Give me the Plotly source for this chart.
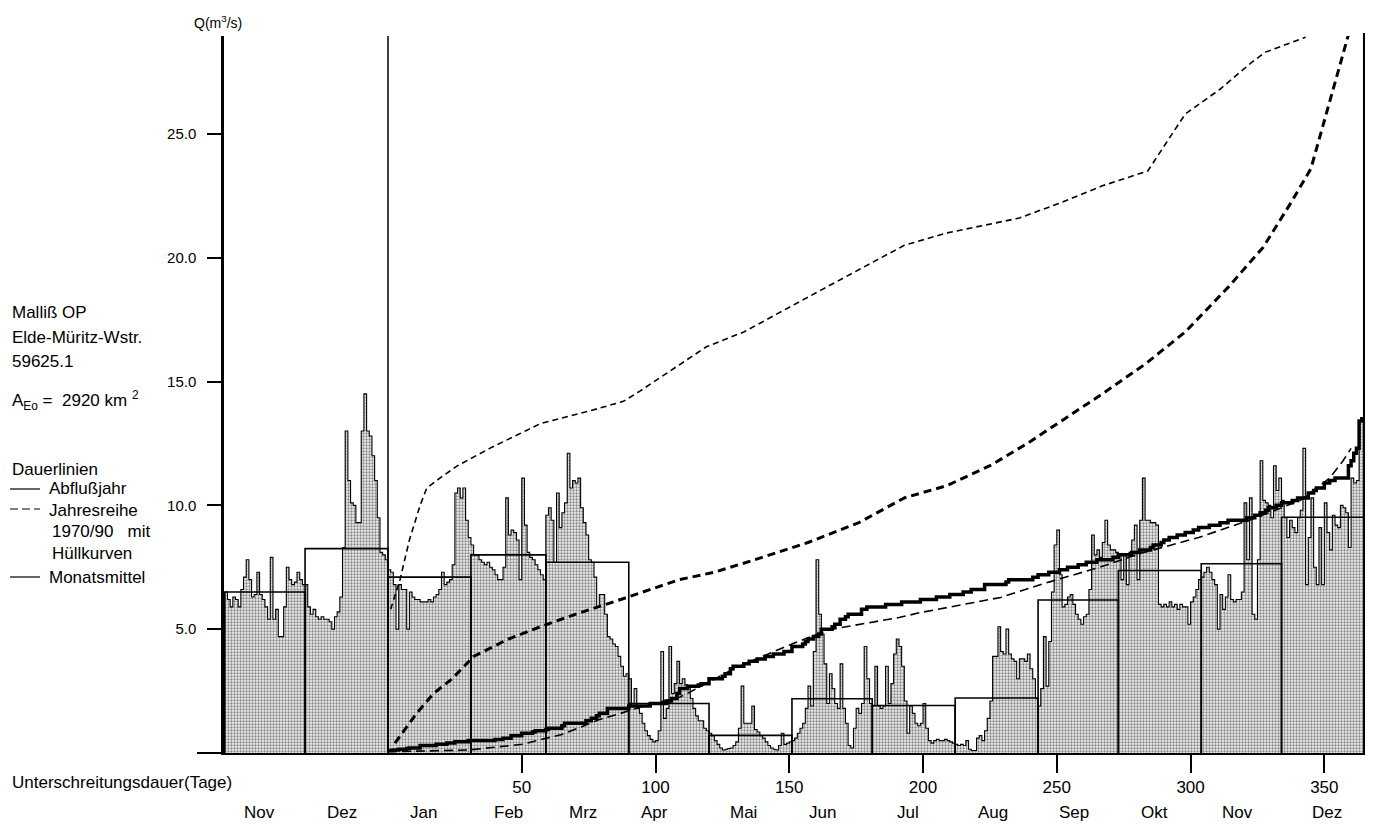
import plotly.graph_objects as go

# ---------------------------------------------------------------------------
# Daily discharge Q (m³/s), Malliß OP / Elde-Müritz-Wasserstraße
# previous-year Nov/Dez followed by the water year Jan..Dez
# ---------------------------------------------------------------------------
q_nov_prev = [6.5, 6.2, 5.9, 6.3, 6.2, 5.9, 6.6, 7.1, 7.8, 7.0, 6.3, 6.4, 7.3, 6.4, 6.2,
              5.9, 5.4, 7.9, 5.4, 5.8, 4.7, 4.7, 5.9, 7.5, 7.0, 6.8, 6.9, 7.3, 7.0, 6.8]
q_dez_prev = [6.8, 5.9, 5.6, 5.8, 5.5, 5.4, 5.5, 5.4, 5.4, 5.3, 5.0, 5.5, 5.7, 6.3, 8.3, 13.0,
              11.0, 10.1, 10.0, 9.3, 9.3, 13.0, 14.5, 13.0, 12.8, 12.0, 11.0, 9.5, 8.1, 8.0, 7.8]
q_jan = [7.4, 7.3, 6.8, 5.0, 6.8, 6.6, 6.6, 5.0, 6.5, 6.3, 6.2, 6.2, 6.1, 6.1, 6.1, 6.2,
         6.1, 6.3, 6.4, 6.6, 7.3, 6.8, 6.9, 7.0, 7.6, 10.5, 10.7, 10.3, 10.7, 9.4, 8.7]
q_feb = [8.4, 8.0, 8.0, 7.8, 7.7, 7.6, 7.7, 7.5, 7.4, 7.2, 7.0, 7.0, 7.5, 10.3, 8.8, 9.0,
         8.9, 8.6, 7.0, 11.1, 9.2, 8.1, 7.9, 7.8, 7.6, 7.4, 7.2, 7.0]
q_mrz = [9.6, 9.9, 9.4, 7.7, 10.5, 9.1, 9.7, 10.1, 12.1, 10.7, 11.0, 10.9, 11.1, 9.9, 9.3, 8.8,
         7.8, 7.7, 7.1, 5.9, 6.4, 6.4, 5.6, 4.7, 4.6, 4.4, 4.3, 3.9, 3.5, 3.1, 3.2]
q_apr = [3.0, 1.9, 2.6, 1.8, 1.6, 1.2, 0.9, 0.7, 0.55, 0.45, 0.5, 0.9, 4.1, 1.4, 1.8, 4.3,
         2.4, 2.8, 3.7, 2.8, 3.0, 2.75, 2.7, 2.2, 1.8, 1.5, 1.3, 1.3, 1.0, 0.9]
q_mai = [0.8, 0.7, 0.5, 0.35, 0.2, 0.12, 0.15, 0.18, 0.2, 0.3, 0.45, 1.0, 2.7, 1.2, 1.2, 1.2,
         1.9, 0.95, 0.85, 0.7, 0.6, 0.45, 0.3, 0.2, 0.15, 0.12, 0.3, 0.8, 0.35, 0.4, 0.45]
q_jun = [0.5, 0.6, 0.8, 1.0, 1.2, 1.8, 2.7, 1.9, 4.1, 7.8, 5.6, 4.8, 3.6, 2.0, 3.2, 2.6,
         2.0, 1.8, 3.6, 1.8, 1.2, 0.3, 0.2, 1.0, 1.8, 1.6, 2.0, 4.3, 3.0, 2.0]
q_jul = [1.9, 3.5, 1.9, 1.8, 1.9, 3.5, 2.0, 2.8, 4.0, 4.6, 4.3, 3.5, 2.1, 0.8, 1.9, 1.6,
         1.2, 1.1, 1.2, 2.0, 1.0, 0.5, 0.4, 0.5, 0.55, 0.5, 0.5, 0.55, 0.5, 0.45, 0.4]
q_aug = [0.35, 0.3, 0.35, 0.3, 0.5, 0.15, 0.1, 0.1, 0.6, 0.7, 0.5, 0.9, 1.4, 2.1, 3.9, 3.9,
         5.1, 4.1, 4.0, 5.0, 4.0, 3.8, 3.7, 3.0, 3.8, 3.8, 3.7, 4.0, 3.4, 3.0, 2.2]
q_sep = [1.9, 2.6, 4.7, 2.7, 4.5, 6.5, 8.4, 9.0, 7.2, 5.9, 6.0, 6.3, 6.4, 6.0, 5.6, 5.4,
         5.2, 5.5, 5.6, 6.6, 8.8, 8.0, 8.2, 7.9, 8.5, 9.4, 8.4, 8.2, 8.2, 8.1]
q_okt = [8.0, 7.0, 8.0, 6.8, 8.1, 8.6, 9.2, 7.0, 9.4, 11.1, 9.4, 9.4, 9.3, 9.3, 9.2, 6.0,
         5.9, 6.0, 5.9, 6.1, 5.9, 6.0, 5.8, 6.0, 5.9, 5.9, 5.2, 6.1, 6.3, 6.6, 7.0]
q_nov = [7.1, 7.3, 7.5, 7.3, 7.0, 6.8, 5.0, 6.4, 5.8, 6.3, 7.2, 6.2, 6.1, 6.2, 6.2, 6.5,
         10.1, 7.8, 10.3, 5.6, 5.4, 7.8, 11.8, 10.2, 10.1, 10.0, 9.5, 11.6, 10.6, 11.1]
q_dez = [10.2, 9.5, 8.7, 9.4, 9.1, 8.9, 9.5, 9.8, 12.3, 6.8, 8.7, 10.3, 7.5, 6.8, 9.1, 6.8,
         10.1, 8.9, 8.2, 9.6, 9.2, 9.1, 10.0, 9.9, 9.7, 8.3, 11.1, 10.9, 11.0, 13.4, 13.5]

# Monthly means (Monatsmittel) and month layout
month_names = ["Nov", "Dez", "Jan", "Feb", "Mrz", "Apr", "Mai", "Jun",
               "Jul", "Aug", "Sep", "Okt", "Nov", "Dez"]
month_start_day = [-61, -31, 0, 31, 59, 90, 120, 151, 181, 212, 243, 273, 304, 334]
month_mean = [6.5, 8.25, 7.1, 8.0, 7.7, 2.0, 0.71, 2.19, 1.92, 2.22, 6.18, 7.37, 7.64, 9.52]
month_label_day = [-47.9, -17.2, 13.1, 45.2, 73.0, 99.8, 132.7, 162.6,
                   194.4, 226.2, 256.4, 286.4, 317.4, 351.0]
year_end_day = 365

# Duration curves of the series 1970/90 (mean and envelopes)
upper_day = [1, 4.5, 8, 12, 14.5, 19.4, 26, 38, 57, 75, 88, 94, 119, 133, 162, 193,
             209, 236, 251, 267, 284, 298, 311, 323, 328, 343]
upper_q = [5.8, 7.0, 8.6, 10.0, 10.7, 11.1, 11.6, 12.3, 13.3, 13.8, 14.2, 14.6, 16.4, 17.0,
           18.7, 20.5, 21.0, 21.6, 22.2, 22.9, 23.5, 25.8, 26.8, 27.9, 28.3, 28.9]
mean_day = [2.6, 10.7, 17, 24, 32, 45, 57, 70, 87, 109, 122, 137, 157, 176, 193, 209,
            225, 239, 253, 267, 283, 298, 314, 327, 338, 345, 352, 359]
mean_q = [0.4, 1.6, 2.4, 3.0, 3.9, 4.6, 5.1, 5.6, 6.2, 7.0, 7.3, 7.8, 8.5, 9.3, 10.3, 10.8,
          11.6, 12.5, 13.5, 14.5, 15.7, 17.0, 18.8, 20.4, 22.3, 23.6, 26.3, 29.0]
lower_day = [0, 30, 50, 65, 72, 79, 87, 94, 109, 119, 128, 139, 151, 159, 166, 181, 191,
             199, 229, 247, 266, 281, 303, 322, 341, 352, 357, 360]
lower_q = [0.05, 0.12, 0.35, 0.75, 1.04, 1.35, 1.6, 1.85, 2.25, 2.8, 3.33, 3.86, 4.4, 4.74,
           5.0, 5.27, 5.47, 5.67, 6.28, 6.9, 7.5, 8.05, 8.7, 9.4, 10.2, 11.1, 11.8, 12.3]

x_tick_vals = [50, 100, 150, 200, 250, 300, 350]
y_tick_vals = [5, 10, 15, 20, 25]
y_tick_text = ["5.0", "10.0", "15.0", "20.0", "25.0"]

# ---------------------------------------------------------------------------
FONT = "Liberation Sans, Arial, sans-serif"
W, H = 1374, 825
ML, MR, MT, MB = 224, 9, 36, 72
PW, PH = W - ML - MR, H - MT - MB


def fx(px):
    return (px - ML) / PW


def fy(py):
    return (H - MB - py) / PH


# daily hydrograph
daily = (q_nov_prev + q_dez_prev + q_jan + q_feb + q_mrz + q_apr + q_mai + q_jun
         + q_jul + q_aug + q_sep + q_okt + q_nov + q_dez)
first_day = month_start_day[0]
hx = [first_day + i for i in range(len(daily))] + [first_day + len(daily)]
hy = daily + [daily[-1]]

# flow-duration curve of the water year (sorted daily values Jan..Dez)
year_vals = sorted(daily[-first_day:])
fdc_x = list(range(len(year_vals))) + [len(year_vals)]
fdc_y = year_vals + [year_vals[-1]]

# monthly mean boxes
ends = month_start_day[1:] + [year_end_day]
mx, my = [], []
for s, e, m in zip(month_start_day, ends, month_mean):
    mx += [s, s, e, e, None]
    my += [0, m, m, 0, None]

fig = go.Figure()
fig.add_trace(go.Scatter(
    x=hx, y=hy, mode="lines", line=dict(color="black", width=1.1, shape="hv"),
    fill="tozeroy", fillcolor="rgba(0,0,0,0)",
    fillpattern=dict(shape=".", fgcolor="#1a1a1a", bgcolor="#f0f0f0", size=3, solidity=0.45),
    hoverinfo="skip", showlegend=False))
fig.add_trace(go.Scatter(x=mx, y=my, mode="lines", line=dict(color="black", width=1.6),
                         hoverinfo="skip", showlegend=False))
fig.add_trace(go.Scatter(x=upper_day, y=upper_q, mode="lines",
                         line=dict(color="black", width=1.6, dash="6px,4px"),
                         hoverinfo="skip", showlegend=False))
fig.add_trace(go.Scatter(x=lower_day, y=lower_q, mode="lines",
                         line=dict(color="black", width=1.6, dash="9px,5px"),
                         hoverinfo="skip", showlegend=False))
fig.add_trace(go.Scatter(x=mean_day, y=mean_q, mode="lines",
                         line=dict(color="black", width=3, dash="8px,5px"),
                         hoverinfo="skip", showlegend=False))
fig.add_trace(go.Scatter(x=fdc_x, y=fdc_y, mode="lines",
                         line=dict(color="black", width=3.5, shape="hv"),
                         hoverinfo="skip", showlegend=False))

shapes = [
    # year boundary lines
    dict(type="line", xref="x", yref="paper", x0=0, x1=0, y0=0, y1=1,
         line=dict(color="black", width=1.5)),
    dict(type="line", xref="x", yref="paper", x0=year_end_day, x1=year_end_day, y0=0, y1=fy(33),
         line=dict(color="black", width=3)),
    # baseline extension left of the Q axis
    dict(type="line", xref="paper", yref="paper", x0=fx(197), x1=0, y0=0, y1=0,
         line=dict(color="black", width=2)),
    # key lines of the left-hand legend
    dict(type="line", xref="paper", yref="paper", x0=fx(10), x1=fx(40), y0=fy(489), y1=fy(489),
         line=dict(color="black", width=1.2)),
    dict(type="line", xref="paper", yref="paper", x0=fx(10), x1=fx(40), y0=fy(509), y1=fy(509),
         line=dict(color="black", width=1.2, dash="8px,4px")),
    dict(type="line", xref="paper", yref="paper", x0=fx(10), x1=fx(40), y0=fy(577), y1=fy(577),
         line=dict(color="black", width=1.2)),
]

ann = []


def text(px, py, s, size=17, anchor="left"):
    ann.append(dict(x=fx(px), y=fy(py), xref="paper", yref="paper", text=s, showarrow=False,
                    xanchor=anchor, yanchor="middle", font=dict(family=FONT, size=size, color="black")))


text(218, 22, "Q(m<sup>3</sup>/s)", size=14, anchor="center")
text(10, 312, "Malliß OP")
text(10, 337, "Elde-Müritz-Wstr.")
text(10, 361, "59625.1")
text(10, 400, "A<sub>Eo</sub> =  2920 km <sup>2</sup>")
text(10, 469, "Dauerlinien")
text(47, 489, "Abflußjahr")
text(47, 510, "Jahresreihe")
text(50, 531, "1970/90   mit")
text(50, 553, "Hüllkurven")
text(47, 577, "Monatsmittel")
text(10, 782, "Unterschreitungsdauer(Tage)")

for name, d in zip(month_names, month_label_day):
    ann.append(dict(x=d, y=fy(812), xref="x", yref="paper", text=name, showarrow=False,
                    xanchor="center", yanchor="middle", font=dict(family=FONT, size=17, color="black")))

fig.update_layout(
    width=W, height=H, margin=dict(l=ML, r=MR, t=MT, b=MB, autoexpand=False),
    paper_bgcolor="white", plot_bgcolor="white",
    shapes=shapes, annotations=ann,
    xaxis=dict(range=[-61.3, 365.2], showgrid=False, zeroline=False, showline=True,
               linecolor="black", linewidth=2, tickmode="array", tickvals=x_tick_vals,
               ticks="outside", ticklen=18, tickwidth=1.5, tickcolor="black",
               tickfont=dict(family=FONT, size=17, color="black")),
    yaxis=dict(range=[0, 28.95], showgrid=False, zeroline=False, showline=True,
               linecolor="black", linewidth=2.5, tickmode="array", tickvals=y_tick_vals,
               ticktext=y_tick_text, ticks="outside", ticklen=14, tickwidth=2, tickcolor="black",
               ticklabelstandoff=8, tickfont=dict(family=FONT, size=15, color="black")),
)

fig.write_html("out.html")
